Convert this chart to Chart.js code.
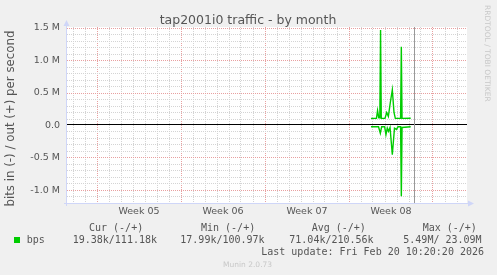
<!DOCTYPE html>
<html><head><meta charset="utf-8">
<script src="https://cdn.jsdelivr.net/npm/chart.js@4/dist/chart.umd.min.js"></script>
<style>html,body{margin:0;padding:0;background:#f0f0f0;}canvas{display:block;}</style>
</head><body>
<canvas id="c" width="497" height="275"></canvas>
<script>
// ---- data (x in days since start of the graph window, values in bits/s) ----
const outDays = [25.33, 25.79, 25.88, 25.98, 26.07, 26.13, 26.19, 26.50, 26.64, 26.78, 26.94, 27.11, 27.25, 27.36, 27.80, 27.86, 27.92, 28.64];
const outBps  = [110000, 110000, 230000, 120000, 120000, 1470000, 110000, 110000, 200000, 140000, 350000, 550000, 200000, 110000, 110000, 1210000, 110000, 111180];
const inDays  = [25.33, 25.96, 26.11, 26.22, 26.47, 26.58, 26.69, 26.79, 26.92, 27.11, 27.29, 27.46, 27.58, 27.80, 27.86, 27.92, 28.64];
const inBps   = [20000, 20000, 120000, 20000, 20000, 140000, 40000, 90000, 30000, 450000, 40000, 60000, 20000, 20000, 1090000, 30000, 19380];
const nowDay = 28.94;

const yMinorTicks = [-1100000, -1000000, -900000, -800000, -700000, -600000, -500000, -400000, -300000, -200000, -100000, 0, 100000, 200000, 300000, 400000, 500000, 600000, 700000, 800000, 900000, 1000000, 1100000, 1200000, 1300000, 1400000, 1500000];
const yMajorValues = [1500000, 1000000, 500000, 0, -500000, -1000000];
const yMajorLabels = ['1.5 M', '1.0 M', '0.5 M', '0.0', '-0.5 M', '-1.0 M'];

const dayGridTicks = [0.5, 1.5, 2.5, 3.5, 4.5, 5.5, 6.5, 7.5, 8.5, 9.5, 10.5, 11.5, 12.5, 13.5, 14.5, 15.5, 16.5, 17.5, 18.5, 19.5, 20.5, 21.5, 22.5, 23.5, 24.5, 25.5, 26.5, 27.5, 28.5, 29.5, 30.5, 31.5, 32.5];
const weekStartDays = [2.5, 9.5, 16.5, 23.5, 30.5];
const weekLabelDays = [6, 13, 20, 27];
const weekLabels = ['Week 05', 'Week 06', 'Week 07', 'Week 08'];

const title = 'tap2001i0 traffic - by month';
const yTitle = 'bits in (-) / out (+) per second';
const legendHeaders = ['Cur (-/+)', 'Min (-/+)', 'Avg (-/+)', 'Max (-/+)'];
const legendValues = ['19.38k/111.18k', '17.99k/100.97k', '71.04k/210.56k', '5.49M/ 23.09M'];
const seriesName = 'bps';
const lastUpdate = 'Last update: Fri Feb 20 10:20:20 2026';
const version = 'Munin 2.0.73';
const sideText = 'RRDTOOL / TOBI OETIKER';

const GREEN = '#00cc00';
const AXIS = '#cfd6f8';
const TEXT = '#555555';

const outData = outDays.map((d, i) => ({x: d, y: outBps[i]}));
const inData = inDays.map((d, i) => ({x: d, y: -inBps[i]}));

const decor = {
  id: 'decor',
  beforeDraw(chart) {
    const {ctx, chartArea: a} = chart;
    ctx.save();
    ctx.fillStyle = '#f0f0f0';
    ctx.fillRect(0, 0, chart.width, chart.height);
    ctx.fillStyle = '#ffffff';
    ctx.fillRect(a.left, a.top, a.right - a.left, a.bottom - a.top);
    ctx.restore();
  },
  afterDatasetsDraw(chart) {
    const {ctx, chartArea: a, scales} = chart;
    ctx.save();
    // zero rule
    const y0 = Math.round(scales.y.getPixelForValue(0)) + 0.5;
    ctx.strokeStyle = '#000000';
    ctx.lineWidth = 1;
    ctx.beginPath(); ctx.moveTo(a.left, y0 - 1); ctx.lineTo(a.right, y0 - 1); ctx.stroke();
    // now line
    const xn = Math.round(scales.x.getPixelForValue(nowDay)) + 0.5;
    ctx.strokeStyle = '#999999';
    ctx.beginPath(); ctx.moveTo(xn, a.top); ctx.lineTo(xn, a.bottom); ctx.stroke();
    // axes
    ctx.strokeStyle = AXIS; ctx.fillStyle = AXIS;
    const xl = a.left - 0.5, yb = a.bottom + 0.5;
    ctx.beginPath(); ctx.moveTo(a.left - 3, yb); ctx.lineTo(a.right + 2, yb); ctx.stroke();
    ctx.beginPath(); ctx.moveTo(xl, a.bottom + 3); ctx.lineTo(xl, a.top - 1); ctx.stroke();
    ctx.beginPath(); ctx.moveTo(xl - 3, a.top - 1); ctx.lineTo(xl + 3, a.top - 1); ctx.lineTo(xl, a.top - 7); ctx.closePath(); ctx.fill();
    ctx.beginPath(); ctx.moveTo(a.right + 1, yb - 3); ctx.lineTo(a.right + 1, yb + 3); ctx.lineTo(a.right + 7, yb); ctx.closePath(); ctx.fill();
    ctx.restore();
  },
  afterDraw(chart) {
    const {ctx} = chart;
    ctx.save();
    ctx.fillStyle = TEXT;
    ctx.font = '12.5px "DejaVu Sans"';
    ctx.textAlign = 'center'; ctx.textBaseline = 'alphabetic';
    ctx.fillText(title, 248, 23.5);
    // y title
    ctx.save();
    ctx.translate(14, 118.5);
    ctx.rotate(-Math.PI / 2);
    ctx.font = '11.8px "DejaVu Sans"';
    ctx.fillText(yTitle, 0, 0);
    ctx.restore();
    // legend
    ctx.font = '10px "DejaVu Sans Mono"';
    ctx.textAlign = 'left';
    const hx = [89, 201, 311.7, 422.7];
    legendHeaders.forEach((t, i) => ctx.fillText(t, hx[i], 231.3));
    const vx = [72.7, 180.3, 289.3, 403.3];
    legendValues.forEach((t, i) => ctx.fillText(t, vx[i], 243.3));
    ctx.fillText(seriesName, 26.7, 243.3);
    ctx.textAlign = 'right';
    ctx.fillText(lastUpdate, 484, 254.8);
    ctx.fillStyle = GREEN;
    ctx.fillRect(14, 237, 6, 6);
    // footer
    ctx.fillStyle = '#c8c8c8';
    ctx.font = '7.5px "DejaVu Sans"';
    ctx.textAlign = 'left';
    ctx.fillText(version, 223, 267);
    ctx.save();
    ctx.translate(485, 5);
    ctx.rotate(Math.PI / 2);
    ctx.fillText(sideText, 0, 0);
    ctx.restore();
    ctx.restore();
  }
};

const MAJOR = '#e8a0a0', MINOR = '#d4d4d4';

new Chart(document.getElementById('c'), {
  type: 'line',
  data: {
    datasets: [
      {label: 'out', data: outData, borderColor: GREEN, borderWidth: 1.4, pointRadius: 0, tension: 0, fill: false},
      {label: 'in', data: inData, borderColor: GREEN, borderWidth: 1.4, pointRadius: 0, tension: 0, fill: false}
    ]
  },
  options: {
    responsive: false,
    animation: false,
    devicePixelRatio: 1,
    layout: {padding: {left: 0, right: 30, top: 27, bottom: 0}},
    plugins: {legend: {display: false}, title: {display: false}, tooltip: {enabled: false}},
    scales: {
      x: {
        type: 'linear', position: 'bottom', weight: 0,
        min: 0, max: 400 / 12,
        afterBuildTicks: s => { s.ticks = dayGridTicks.map(v => ({value: v})); },
        afterFit: s => { s.height = 0; },
        ticks: {display: false},
        grid: {
          drawTicks: false,
          color: c => weekStartDays.includes(c.tick && c.tick.value) ? MAJOR : MINOR,
          lineWidth: 1
        },
        border: {display: false, dash: [1, 1]}
      },
      x2: {
        type: 'linear', position: 'bottom', weight: 1,
        min: 0, max: 400 / 12,
        afterBuildTicks: s => { s.ticks = weekLabelDays.map(v => ({value: v})); },
        afterFit: s => { s.height = 72; },
        ticks: {
          autoSkip: false, maxRotation: 0, padding: 3,
          color: TEXT, font: {family: 'DejaVu Sans', size: 9.5},
          callback: v => weekLabels[weekLabelDays.indexOf(v)] || ''
        },
        grid: {display: false, drawTicks: false},
        border: {display: false}
      },
      y: {
        type: 'linear', position: 'left',
        min: -1192308, max: 1515385,
        afterBuildTicks: s => { s.ticks = yMinorTicks.map(v => ({value: v})); },
        afterFit: s => { s.width = 67; },
        ticks: {
          autoSkip: false, padding: 7,
          color: TEXT, font: {family: 'DejaVu Sans', size: 9.5},
          callback: v => { const i = yMajorValues.indexOf(v); return i >= 0 ? yMajorLabels[i] : ''; }
        },
        grid: {
          drawTicks: false,
          color: c => {
            const v = c.tick && c.tick.value;
            if (v === 0) return 'rgba(0,0,0,0)';
            return yMajorValues.includes(v) ? MAJOR : MINOR;
          },
          lineWidth: 1
        },
        border: {display: false, dash: [1, 1]}
      }
    }
  },
  plugins: [decor]
});
</script>
</body></html>
